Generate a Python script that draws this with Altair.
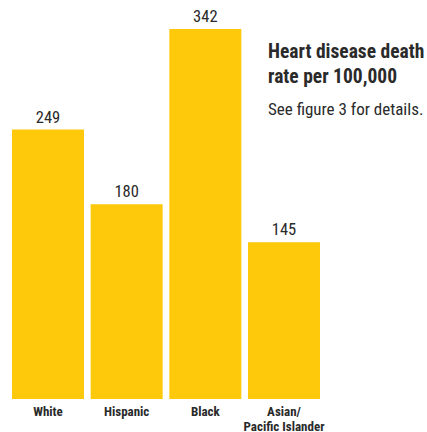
import altair as alt
import pandas as pd

categories = ["White", "Hispanic", "Black", "Asian/|Pacific Islander"]
rates = [249, 180, 342, 145]
title_lines = "Heart disease death\nrate per 100,000"
subtitle = "See figure 3 for details."

FONT = "Roboto Condensed, DejaVu Sans Condensed, sans-serif"
GOLD = "#FDC90A"
INK = "#2a2a2a"

df = pd.DataFrame({"group": categories, "rate": rates})

x = alt.X("group:N", sort=categories,
          scale=alt.Scale(paddingInner=0.085, paddingOuter=0),
          axis=alt.Axis(title=None, domain=False, ticks=False, labelAngle=0,
                        labelFont=FONT, labelFontWeight="bold", labelFontSize=13,
                        labelColor=INK, labelPadding=6, labelLineHeight=15,
                        labelExpr="split(datum.value, '|')"))
y = alt.Y("rate:Q", scale=alt.Scale(domain=[0, 368.8], nice=False, zero=True), axis=None)

bars = alt.Chart(df).mark_bar(color=GOLD).encode(x=x, y=y)
labels = alt.Chart(df).mark_text(font=FONT, fontSize=16.5, color=INK, baseline="bottom", dy=-4).encode(
    x=x, y=y, text=alt.Text("rate:Q"))

tdf = pd.DataFrame({"t": [title_lines]})
title = alt.Chart(tdf).mark_text(font=FONT, fontSize=19.5, fontWeight="bold", color=INK,
                                 align="left", baseline="alphabetic", lineBreak="\n",
                                 lineHeight=25).encode(
    x=alt.value(256), y=alt.value(58), text="t:N")
sdf = pd.DataFrame({"s": [subtitle]})
sub = alt.Chart(sdf).mark_text(font=FONT, fontSize=17, color=INK, align="left",
                               baseline="alphabetic").encode(
    x=alt.value(256), y=alt.value(115), text="s:N")

chart = alt.layer(bars, labels, title, sub).properties(
    width=308, height=399,
    autosize=alt.AutoSizeParams(type="none"),
    padding={"left": 12, "top": 0, "right": 107, "bottom": 33},
).configure(background="white", view=alt.ViewConfig(stroke=None))

chart.save("out.html", embed_options={"renderer": "svg", "actions": False})
